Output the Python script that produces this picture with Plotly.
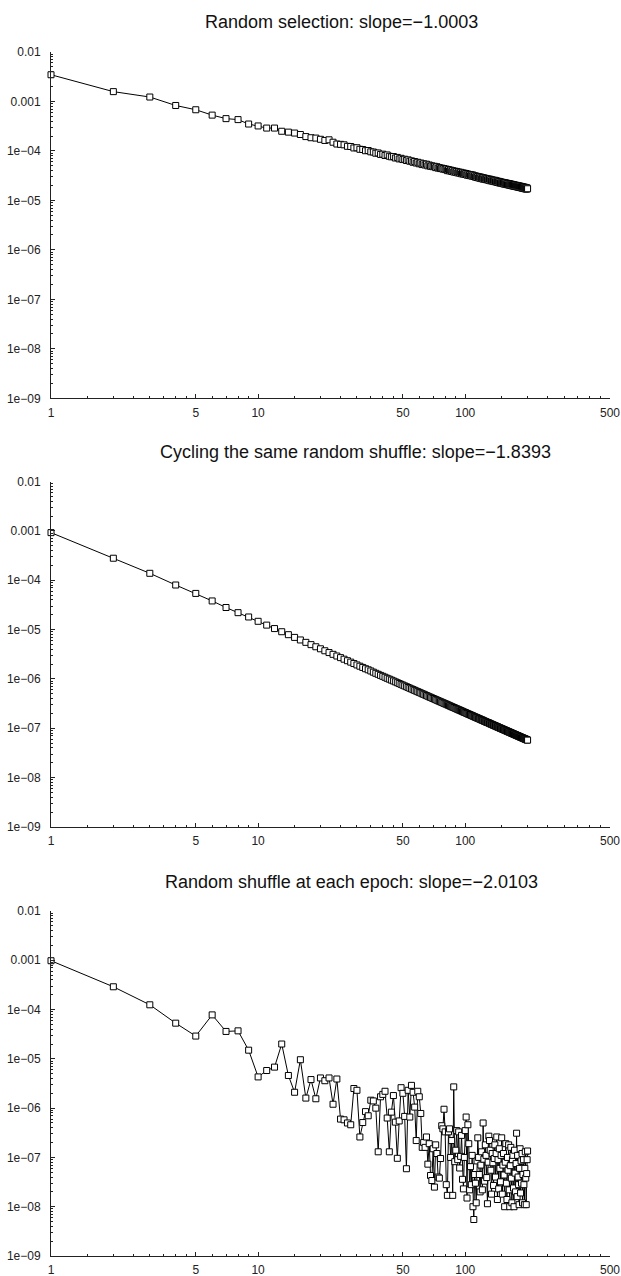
import math
import plotly.graph_objects as go

epochs = list(range(1, 201))

random_selection = [
    3.47e-3, 1.58e-3, 1.23e-3, 8.3e-4, 6.8e-4, 5.3e-4, 4.5e-4, 4.3e-4, 3.5e-4, 3.2e-4,
    2.9e-4, 2.9e-4, 2.5e-4, 2.4e-4, 2.3e-4, 2.15e-4, 1.95e-4, 1.85e-4, 1.82e-4, 1.72e-4,
    1.63e-4, 1.68e-4, 1.50e-4, 1.38e-4, 1.36e-4, 1.33e-4, 1.24e-4, 1.23e-4, 1.15e-4, 1.16e-4,
    1.08e-4, 1.07e-4, 1.01e-4, 1.02e-4, 9.6e-5, 9.5e-5, 9.0e-5, 9.1e-5, 8.5e-5, 8.6e-5,
    8.1e-5, 8.3e-5, 7.8e-5, 7.6e-5, 7.7e-5, 7.2e-5, 7.4e-5, 6.9e-5, 7.1e-5, 6.7e-5,
    6.8e-5, 6.4e-5, 6.6e-5, 6.2e-5, 6.3e-5, 5.9e-5, 6.1e-5, 5.7e-5, 5.9e-5, 5.5e-5,
    5.7e-5, 5.3e-5, 5.5e-5, 5.2e-5, 5.4e-5, 5.0e-5, 5.2e-5, 4.9e-5, 5.0e-5, 4.8e-5,
    4.9e-5, 4.6e-5, 4.8e-5, 4.5e-5, 4.6e-5, 4.4e-5, 4.5e-5, 4.3e-5, 4.4e-5, 4.2e-5,
    4.3e-5, 4.0e-5, 4.2e-5, 3.95e-5, 4.1e-5, 3.85e-5, 4.0e-5, 3.75e-5, 3.9e-5, 3.7e-5,
    3.85e-5, 3.6e-5, 3.75e-5, 3.55e-5, 3.7e-5, 3.45e-5, 3.6e-5, 3.4e-5, 3.55e-5, 3.35e-5,
    3.5e-5, 3.25e-5, 3.4e-5, 3.2e-5, 3.35e-5, 3.15e-5, 3.3e-5, 3.1e-5, 3.25e-5, 3.05e-5,
    3.15e-5, 2.95e-5, 3.1e-5, 2.9e-5, 3.05e-5, 2.85e-5, 3.0e-5, 2.8e-5, 2.95e-5, 2.75e-5,
    2.9e-5, 2.7e-5, 2.85e-5, 2.68e-5, 2.8e-5, 2.63e-5, 2.75e-5, 2.6e-5, 2.7e-5, 2.55e-5,
    2.7e-5, 2.5e-5, 2.65e-5, 2.48e-5, 2.6e-5, 2.45e-5, 2.55e-5, 2.4e-5, 2.55e-5, 2.38e-5,
    2.5e-5, 2.33e-5, 2.45e-5, 2.3e-5, 2.43e-5, 2.26e-5, 2.4e-5, 2.24e-5, 2.35e-5, 2.22e-5,
    2.33e-5, 2.18e-5, 2.3e-5, 2.15e-5, 2.28e-5, 2.13e-5, 2.25e-5, 2.1e-5, 2.22e-5, 2.08e-5,
    2.2e-5, 2.05e-5, 2.18e-5, 2.03e-5, 2.15e-5, 2.0e-5, 2.13e-5, 1.98e-5, 2.1e-5, 1.96e-5,
    2.08e-5, 1.94e-5, 2.05e-5, 1.92e-5, 2.03e-5, 1.9e-5, 2.01e-5, 1.88e-5, 1.99e-5, 1.86e-5,
    1.97e-5, 1.84e-5, 1.95e-5, 1.82e-5, 1.93e-5, 1.8e-5, 1.91e-5, 1.78e-5, 1.89e-5, 1.76e-5,
    1.87e-5, 1.74e-5, 1.85e-5, 1.72e-5, 1.83e-5, 1.71e-5, 1.81e-5, 1.69e-5, 1.79e-5, 1.72e-5,
]

cycling_shuffle = [
    9.2e-4, 2.79e-4, 1.38e-4, 8.0e-5, 5.4e-5, 3.8e-5, 2.8e-5, 2.2e-5, 1.8e-5, 1.47e-5,
    1.231e-5, 1.048e-5, 9.04e-6, 7.88e-6, 6.94e-6, 6.16e-6, 5.51e-6, 4.95e-6, 4.48e-6, 4.08e-6,
    3.72e-6, 3.42e-6, 3.15e-6, 2.91e-6, 2.70e-6, 2.51e-6, 2.34e-6, 2.19e-6, 2.05e-6, 1.92e-6,
    1.81e-6, 1.71e-6, 1.61e-6, 1.53e-6, 1.45e-6, 1.37e-6, 1.30e-6, 1.24e-6, 1.18e-6, 1.13e-6,
    1.08e-6, 1.03e-6, 9.89e-7, 9.47e-7, 9.09e-7, 8.72e-7, 8.38e-7, 8.06e-7, 7.76e-7, 7.48e-7,
    7.21e-7, 6.96e-7, 6.71e-7, 6.48e-7, 6.27e-7, 6.07e-7, 5.87e-7, 5.68e-7, 5.51e-7, 5.34e-7,
    5.18e-7, 5.02e-7, 4.88e-7, 4.74e-7, 4.60e-7, 4.47e-7, 4.35e-7, 4.23e-7, 4.12e-7, 4.01e-7,
    3.91e-7, 3.81e-7, 3.71e-7, 3.62e-7, 3.53e-7, 3.45e-7, 3.36e-7, 3.29e-7, 3.21e-7, 3.14e-7,
    3.07e-7, 3.00e-7, 2.93e-7, 2.87e-7, 2.80e-7, 2.74e-7, 2.68e-7, 2.63e-7, 2.58e-7, 2.52e-7,
    2.47e-7, 2.42e-7, 2.37e-7, 2.33e-7, 2.28e-7, 2.24e-7, 2.20e-7, 2.15e-7, 2.11e-7, 2.08e-7,
    2.04e-7, 2.00e-7, 1.96e-7, 1.93e-7, 1.90e-7, 1.86e-7, 1.83e-7, 1.80e-7, 1.77e-7, 1.74e-7,
    1.71e-7, 1.68e-7, 1.65e-7, 1.63e-7, 1.60e-7, 1.58e-7, 1.55e-7, 1.53e-7, 1.50e-7, 1.48e-7,
    1.46e-7, 1.44e-7, 1.41e-7, 1.39e-7, 1.37e-7, 1.35e-7, 1.33e-7, 1.31e-7, 1.30e-7, 1.28e-7,
    1.26e-7, 1.24e-7, 1.22e-7, 1.21e-7, 1.19e-7, 1.17e-7, 1.16e-7, 1.14e-7, 1.13e-7, 1.11e-7,
    1.10e-7, 1.08e-7, 1.07e-7, 1.06e-7, 1.04e-7, 1.03e-7, 1.02e-7, 1.00e-7, 9.91e-8, 9.80e-8,
    9.67e-8, 9.56e-8, 9.44e-8, 9.33e-8, 9.22e-8, 9.11e-8, 9.00e-8, 8.89e-8, 8.79e-8, 8.69e-8,
    8.59e-8, 8.49e-8, 8.39e-8, 8.30e-8, 8.21e-8, 8.11e-8, 8.02e-8, 7.94e-8, 7.85e-8, 7.76e-8,
    7.68e-8, 7.60e-8, 7.52e-8, 7.44e-8, 7.36e-8, 7.28e-8, 7.21e-8, 7.13e-8, 7.06e-8, 6.99e-8,
    6.92e-8, 6.85e-8, 6.78e-8, 6.71e-8, 6.64e-8, 6.58e-8, 6.51e-8, 6.45e-8, 6.39e-8, 6.33e-8,
    6.27e-8, 6.21e-8, 6.15e-8, 6.09e-8, 6.03e-8, 5.98e-8, 5.92e-8, 5.87e-8, 5.81e-8, 5.76e-8,
]

shuffle_each_epoch = [
    9.8e-4, 2.9e-4, 1.25e-4, 5.3e-5, 2.9e-5, 7.8e-5, 3.6e-5, 3.7e-5, 1.5e-5, 4.3e-6,
    5.8e-6, 6.8e-6, 2.0e-5, 4.6e-6, 2.1e-6, 9.6e-6, 1.6e-6, 3.8e-6, 1.55e-6, 4.1e-6,
    3.6e-6, 4.1e-6, 1.2e-6, 3.9e-6, 6.0e-7, 5.8e-7, 5.0e-7, 4.6e-7, 2.5e-6, 2.3e-6,
    2.6e-7, 5.1e-7, 8.5e-7, 7.0e-7, 1.45e-6, 1.4e-6, 1.0e-6, 1.3e-7, 1.7e-6, 1.9e-6,
    2.2e-6, 6.3e-7, 1.3e-7, 8.3e-7, 1.8e-6, 5.2e-7, 9.6e-8, 5.5e-7, 2.6e-6, 2.0e-6,
    6.8e-7, 5.9e-8, 2.3e-6, 6.6e-7, 2.9e-6, 2.1e-6, 1.05e-6, 2.2e-7, 2.2e-6, 1.7e-6,
    7.8e-7, 1.6e-7, 2.0e-7, 1.6e-7, 2.6e-7, 7.3e-8, 1.9e-7, 4.3e-8, 3.4e-8, 1.5e-7,
    2.5e-8, 1.8e-7, 1.2e-7, 4.0e-8, 3.8e-8, 9.5e-8, 4.4e-7, 3.8e-7, 9.5e-7, 3.3e-7,
    2.8e-8, 1.7e-8, 3.3e-7, 3.8e-7, 1.0e-7, 2.2e-7, 1.7e-8, 2.7e-6, 8.2e-8, 1.4e-7,
    3.5e-7, 9.0e-8, 3.3e-7, 6.1e-8, 1.05e-7, 2.8e-7, 3.6e-8, 2.3e-8, 1.0e-7, 3.5e-7,
    6.6e-7, 1.5e-8, 4.6e-7, 1.9e-7, 2.2e-8, 6.5e-8, 2.8e-8, 1.1e-7, 1.0e-8, 5.5e-9,
    4.5e-8, 3.0e-8, 1.2e-8, 8.5e-8, 2.5e-7, 1.0e-7, 4.5e-8, 2.0e-8, 7.0e-8, 1.3e-7,
    2.2e-8, 5.0e-7, 9.2e-8, 3.3e-8, 1.8e-7, 1.1e-7, 3.9e-8, 1.15e-8, 8.0e-8, 2.7e-7,
    2.2e-7, 1.4e-7, 5.5e-8, 1.8e-8, 1.2e-7, 7.8e-8, 2.7e-8, 9.5e-8, 1.8e-7, 4.0e-8,
    1.2e-7, 2.6e-7, 1.4e-8, 9.0e-8, 2.3e-8, 1.5e-7, 6.0e-8, 3.2e-8, 1.1e-7, 2.5e-7,
    1.8e-8, 7.0e-8, 1.2e-7, 4.4e-8, 1.0e-8, 8.0e-8, 1.9e-7, 3.0e-8, 1.4e-8, 1.0e-7,
    5.5e-8, 1.8e-7, 2.2e-8, 1.0e-8, 6.8e-8, 1.6e-7, 3.8e-8, 1.2e-8, 9.0e-8, 1.1e-7,
    2.4e-8, 1.0e-8, 1.4e-7, 4.8e-8, 2.0e-8, 7.5e-8, 3.1e-7, 1.6e-8, 1.1e-7, 4.0e-8,
    2.8e-8, 1.1e-8, 6.0e-8, 1.5e-7, 1.9e-8, 8.5e-8, 3.0e-8, 1.2e-7, 1.2e-8, 4.5e-8,
    9.0e-8, 2.8e-8, 1.1e-8, 6.0e-8, 1.3e-7, 3.8e-8, 1.1e-8, 4.7e-8, 9.0e-8, 1.35e-7,
]

titles = [
    "Random selection: slope=\u22121.0003",
    "Cycling the same random shuffle: slope=\u22121.8393",
    "Random shuffle at each epoch: slope=\u22122.0103",
]
title_x = [0.52, 0.544, 0.538]

y_tickvals = [1e-2, 1e-3, 1e-4, 1e-5, 1e-6, 1e-7, 1e-8, 1e-9]
y_ticktext = ["0.01", "0.001", "1e\u221204", "1e\u221205", "1e\u221206",
              "1e\u221207", "1e\u221208", "1e\u221209"]
x_tickvals = [1, 5, 10, 50, 100, 500]
x_ticktext = ["1", "5", "10", "50", "100", "500"]

x_minor = [m * d for d in (1, 10, 100) for m in (1.5, 2, 2.5, 3, 3.5, 4, 4.5, 6, 7, 8, 9)]
x_minor = [v for v in x_minor if v < 500]
y_minor = [m * 10.0 ** e for e in range(-9, -2) for m in range(2, 10)]

series = [random_selection, cycling_shuffle, shuffle_each_epoch]

W, H = 621, 1276
ML, MR, MT, MB = 51, 11, 52, 20
plot_h = H - MT - MB
panels_px = [(52, 398.3), (481.5, 827), (911, 1256)]
title_px_y = [22, 452, 882]

fig = go.Figure()
axis_font = dict(family="Liberation Sans, Arial, sans-serif", size=12, color="#222")

for i, ys in enumerate(series):
    k = "" if i == 0 else str(i + 1)
    fig.add_trace(go.Scatter(
        x=epochs, y=ys, mode="lines+markers",
        xaxis="x" + k, yaxis="y" + k,
        line=dict(color="black", width=1),
        marker=dict(symbol="square", size=6, color="white",
                    line=dict(color="black", width=1)),
        cliponaxis=False, showlegend=False,
    ))
    top, bot = panels_px[i]
    dom = [(H - MB - bot) / plot_h, (H - MB - top) / plot_h]
    xa = dict(
        type="log", range=[0, math.log10(500)], domain=[0, 1],
        anchor="y" + k, tickmode="array", tickvals=x_tickvals, ticktext=x_ticktext,
        ticks="inside", ticklen=4, tickcolor="#222", tickwidth=1,
        showline=True, linecolor="#222", linewidth=1, showgrid=False, zeroline=False,
        tickfont=axis_font, ticklabelstandoff=3, automargin=False,
        minor=dict(tickmode="array", tickvals=x_minor, ticks="inside", ticklen=2,
                   tickcolor="#222", tickwidth=1, showgrid=False),
    )
    ya = dict(
        type="log", range=[-9, -2], domain=dom, anchor="x" + k,
        tickmode="array", tickvals=y_tickvals, ticktext=y_ticktext,
        ticks="inside", ticklen=4, tickcolor="#222", tickwidth=1,
        showline=True, linecolor="#222", linewidth=1, showgrid=False, zeroline=False,
        tickfont=axis_font, ticklabelstandoff=7, automargin=False,
        minor=dict(tickmode="array", tickvals=y_minor, ticks="inside", ticklen=2,
                   tickcolor="#222", tickwidth=1, showgrid=False),
    )
    fig.layout["xaxis" + k] = xa
    fig.layout["yaxis" + k] = ya
    fig.add_annotation(
        text=titles[i], xref="paper", yref="paper",
        x=title_x[i], y=(H - MB - title_px_y[i]) / plot_h,
        xanchor="center", yanchor="middle", showarrow=False,
        font=dict(family="Liberation Sans, Arial, sans-serif", size=18, color="#111"),
    )

fig.update_layout(
    width=W, height=H,
    margin=dict(l=ML, r=MR, t=MT, b=MB),
    paper_bgcolor="white", plot_bgcolor="white",
    showlegend=False,
)

fig.write_html(
    "out.html",
    config={"displayModeBar": False},
    post_script="document.body.style.margin='0';document.body.style.overflow='hidden';",
)
